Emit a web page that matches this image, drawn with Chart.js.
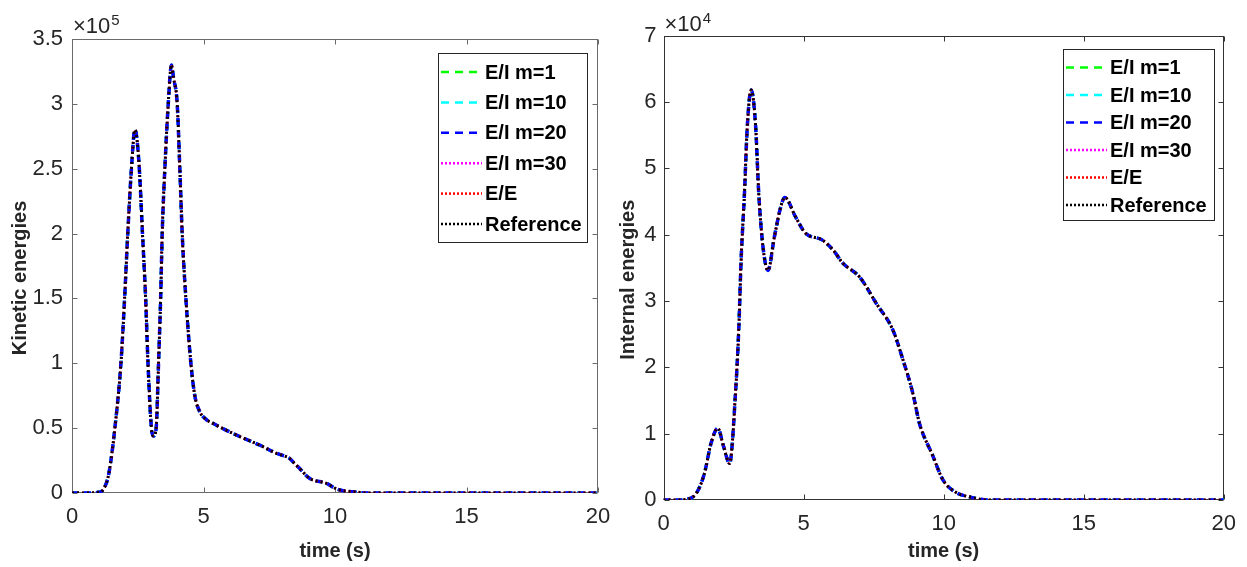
<!DOCTYPE html>
<html lang="en">
<head>
<meta charset="UTF-8">
<title>Kinetic and internal energies</title>
<script src="https://cdn.jsdelivr.net/npm/chart.js"></script>
<style>
  html, body { margin: 0; padding: 0; background: #fff; }
  body { width: 1247px; height: 567px; position: relative; overflow: hidden; }
  .panel { position: absolute; top: 0; height: 567px; }
  #left { left: 0; width: 640px; }
  #right { left: 600px; width: 647px; }
</style>
</head>
<body>
<div class="panel" id="left"><canvas id="kinChart"></canvas></div>
<div class="panel" id="right"><canvas id="intChart"></canvas></div>
<script>
// ---- data ----
const seriesNames = ["E/I m=1", "E/I m=10", "E/I m=20", "E/I m=30", "E/E", "Reference"];

// kinetic energy (J) vs time (s)
const kinTime = [0, 0.5, 1.0, 1.2, 1.4, 1.63, 1.86, 2.0, 2.12, 2.26, 2.39, 2.45, 2.56, 2.68, 2.80, 2.89,
  3.02, 3.10, 3.20, 3.29, 3.37, 3.43, 3.53, 3.66, 3.78, 3.86, 4.0, 4.1, 4.19, 4.33, 4.52, 4.67, 4.85,
  5.05, 5.36, 6.25, 7.13, 7.77, 8.27, 8.45, 8.65, 9.03, 9.67, 10.1, 10.68, 11.3, 20];
const kinEnergy = [0, 0, 500, 3000, 15000, 50000, 100000, 150000, 200000, 250000, 280000, 276000, 250000,
  200000, 150000, 100000, 50000, 44000, 50000, 100000, 150000, 200000, 250000, 300000, 330000, 320000,
  300000, 250000, 200000, 150000, 100000, 75000, 63000, 57600, 53700, 44700, 37000, 30600, 26700, 23000,
  19000, 11300, 7500, 2800, 1000, 0, 0];

// internal energy (J) vs time (s)
const intTime = [0, 0.5, 0.81, 1.17, 1.46, 1.7, 1.94, 2.15, 2.36, 2.57, 2.69, 2.77, 2.89, 2.99, 3.13,
  3.29, 3.40, 3.55, 3.73, 3.96, 4.2, 4.33, 4.71, 5.07, 5.66, 6.05, 6.4, 7.0, 7.6, 8.19, 8.55, 8.9, 9.14,
  9.6, 9.98, 10.4, 10.99, 11.6, 20];
const intEnergy = [0, 0, 100, 1000, 4000, 8600, 10800, 8000, 5500, 16100, 26100, 36100, 46200, 56200,
  61800, 56200, 46200, 38200, 34600, 39700, 44400, 45600, 42700, 40200, 39200, 37700, 35700, 33600,
  29600, 25600, 21100, 16100, 11500, 6800, 3000, 1250, 400, 0, 0];

// ---- styling ----
const seriesColors = ["#00ff00", "#00ffff", "#0000ff", "#ff00ff", "#ff0000", "#000000"];
const seriesDash = [[7, 5], [7, 5], [7, 5], [2, 3], [2, 3], [2, 3]];
const seriesWidth = [3, 3, 3.5, 2.5, 2.5, 3];
const FONT = "'Liberation Sans', Arial, Helvetica, sans-serif";

function makeDatasets(time, values) {
  return seriesNames.map((name, i) => ({
    label: name,
    data: time.map((t, k) => ({ x: t, y: values[k] })),
    borderColor: seriesColors[i],
    borderDash: seriesDash[i],
    borderWidth: seriesWidth[i],
    pointRadius: 0,
    fill: false,
    cubicInterpolationMode: "monotone",
    order: seriesNames.length - 1 - i   // Reference drawn last (on top)
  }));
}

// MATLAB-like box with inward ticks on all four sides
const framePlugin = {
  id: "frame",
  beforeDatasetsDraw(chart, args, opts) {
    const { ctx, chartArea: a, scales } = chart;
    const L = Math.round(a.left) + 0.5, R = Math.round(a.right) - 0.5;
    const T = Math.round(a.top) + 0.5, B = Math.round(a.bottom) - 0.5;
    ctx.save();
    ctx.strokeStyle = opts.color;
    ctx.lineWidth = 1;
    ctx.strokeRect(L, T, R - L, B - T);
    ctx.beginPath();
    scales.x.ticks.forEach(t => {
      const px = Math.round(scales.x.getPixelForValue(t.value)) + 0.5;
      ctx.moveTo(px, B); ctx.lineTo(px, B - 5);
      ctx.moveTo(px, T); ctx.lineTo(px, T + 5);
    });
    scales.y.ticks.forEach(t => {
      const py = Math.round(scales.y.getPixelForValue(t.value)) + 0.5;
      ctx.moveTo(L, py); ctx.lineTo(L + 5, py);
      ctx.moveTo(R, py); ctx.lineTo(R - 5, py);
    });
    ctx.stroke();
    ctx.restore();
  }
};

// "x10^n" multiplier above the y axis and the (slightly lowered) y axis label
const axisTextPlugin = {
  id: "axisText",
  afterDraw(chart, args, opts) {
    const { ctx, chartArea: a } = chart;
    ctx.save();
    ctx.fillStyle = "#262626";
    ctx.textBaseline = "alphabetic";
    ctx.textAlign = "left";
    ctx.font = "22px " + FONT;
    const base = "\u00d710";
    ctx.fillText(base, a.left + 1, a.top - opts.expLift);
    const w = ctx.measureText(base).width;
    ctx.font = "15px " + FONT;
    ctx.fillText(opts.power, a.left + 2 + w, a.top - opts.expLift - 8);

    ctx.translate(opts.titleX, (a.top + a.bottom) / 2 + 12);
    ctx.rotate(-Math.PI / 2);
    ctx.textAlign = "center";
    ctx.textBaseline = "middle";
    ctx.font = "bold 20px " + FONT;
    ctx.fillText(opts.yTitle, 0, 0);
    ctx.restore();
  }
};

// boxed legend with line samples
const boxLegendPlugin = {
  id: "boxLegend",
  afterDraw(chart, args, o) {
    const ctx = chart.ctx;
    ctx.save();
    ctx.fillStyle = "#fff";
    ctx.fillRect(o.x, o.y, o.w, o.h);
    ctx.strokeStyle = "#262626";
    ctx.lineWidth = 1;
    ctx.strokeRect(o.x + 0.5, o.y + 0.5, o.w, o.h);
    chart.data.datasets.forEach((ds, i) => {
      const y = o.firstRow + i * o.rowGap;
      ctx.strokeStyle = ds.borderColor;
      ctx.lineWidth = 2.5;
      ctx.setLineDash(ds.borderDash[0] > 3 ? [8, 6] : [2, 2]);
      ctx.beginPath();
      ctx.moveTo(o.x + 3, y);
      ctx.lineTo(o.x + 44, y);
      ctx.stroke();
      ctx.setLineDash([]);
      ctx.fillStyle = "#000";
      ctx.font = "bold 20px " + FONT;
      ctx.textBaseline = "middle";
      ctx.textAlign = "left";
      ctx.fillText(ds.label, o.x + 47, y + 1);
    });
    ctx.restore();
  }
};

function makeChart(id, time, values, cfg) {
  return new Chart(document.getElementById(id), {
    type: "line",
    data: { datasets: makeDatasets(time, values) },
    plugins: [framePlugin, axisTextPlugin, boxLegendPlugin],
    options: {
      responsive: true,
      maintainAspectRatio: false,
      animation: false,
      layout: { padding: { top: cfg.top, right: cfg.right, left: 0, bottom: 0 } },
      plugins: {
        legend: { display: false },
        tooltip: { enabled: false },
        frame: { color: cfg.frameColor },
        axisText: { power: cfg.power, expLift: cfg.expLift, yTitle: cfg.yTitle, titleX: cfg.titleX },
        boxLegend: cfg.legend
      },
      scales: {
        x: {
          type: "linear",
          min: 0, max: 20,
          grid: { display: false, drawTicks: false },
          border: { display: false },
          ticks: { stepSize: 5, padding: 11, color: "#262626", font: { family: FONT, size: 22 } },
          title: { display: true, text: "time (s)", color: "#262626", padding: { top: 0, bottom: 4 },
            font: { family: FONT, size: 20, weight: "bold" } },
          afterFit: s => { s.height = cfg.xHeight; }
        },
        y: {
          type: "linear",
          min: 0, max: cfg.yMax,
          grid: { display: false, drawTicks: false },
          border: { display: false },
          ticks: { stepSize: cfg.yStep, padding: cfg.yPad, color: "#262626",
            font: { family: FONT, size: 22 },
            callback: v => String(+(v / cfg.scale).toFixed(2)) },
          afterFit: s => { s.width = cfg.yWidth; }
        }
      }
    }
  });
}

makeChart("kinChart", kinTime, kinEnergy, {
  top: 39, right: 42, xHeight: 74, yWidth: 72, yPad: 9, titleX: 20, expLift: 6,
  yMax: 350000, yStep: 50000, scale: 1e5, power: "5", frameColor: "#6a6a6a",
  yTitle: "Kinetic energies",
  legend: { x: 438, y: 53, w: 149, h: 189, firstRow: 72, rowGap: 30.4 }
});

makeChart("intChart", intTime, intEnergy, {
  top: 35.5, right: 20, xHeight: 67, yWidth: 63.5, yPad: 7, titleX: 28, expLift: 5,
  yMax: 70000, yStep: 10000, scale: 1e4, power: "4", frameColor: "#333333",
  yTitle: "Internal energies",
  legend: { x: 463, y: 49, w: 151, h: 171, firstRow: 67.5, rowGap: 27.5 }
});
</script>
</body>
</html>
